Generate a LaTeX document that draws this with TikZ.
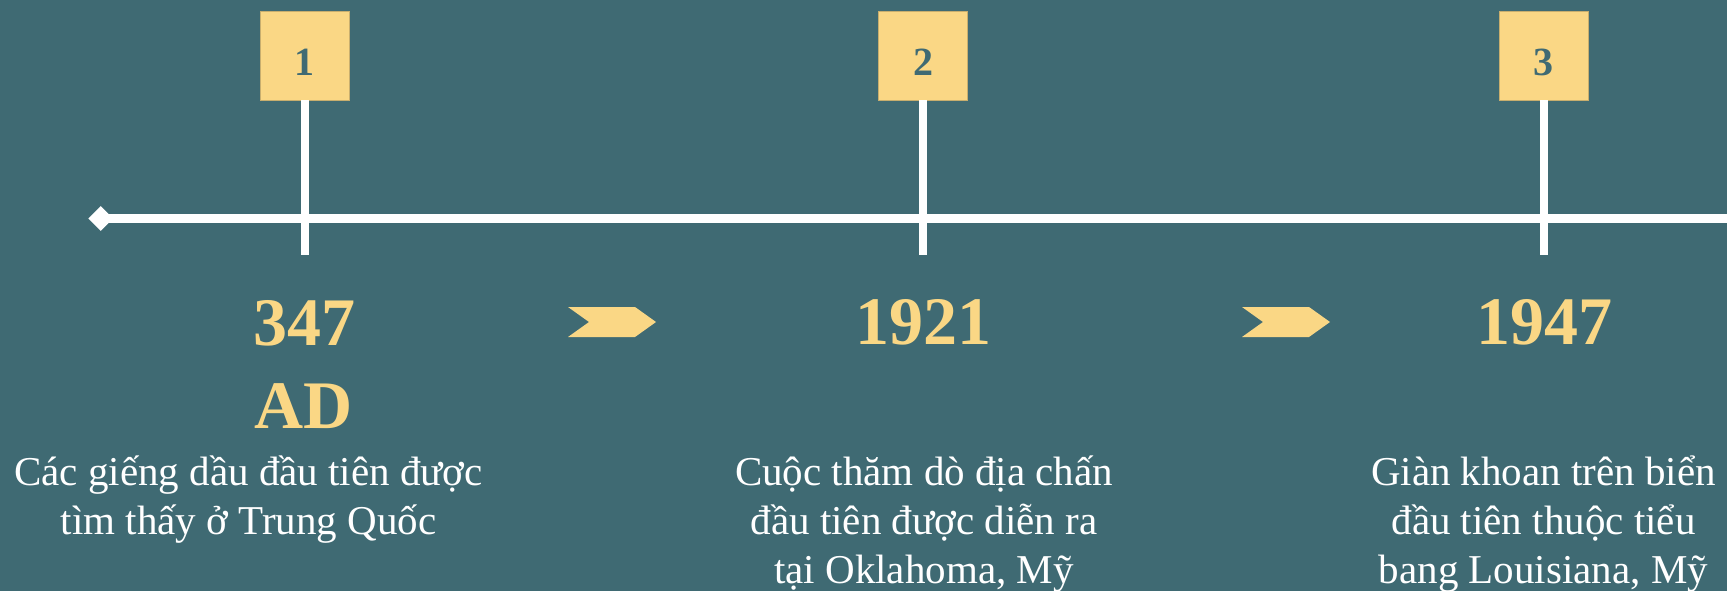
\documentclass[tikz,border=0pt]{standalone}
\usepackage{fontspec}
\usetikzlibrary{shapes.geometric}
\setmainfont{Liberation Serif}
\definecolor{bgteal}{HTML}{3F6A73}
\definecolor{gold}{HTML}{FAD785}
\definecolor{goldedge}{HTML}{C8AE6E}
\begin{document}
\begin{tikzpicture}[x=1pt,y=-1pt,
  numbox/.style={fill=gold,draw=goldedge,line width=0.6pt,minimum size=89pt,inner sep=0pt},
  numtext/.style={text=bgteal,font=\bfseries\fontsize{40}{40}\selectfont,anchor=base,inner sep=0pt},
  stem/.style={draw=white,line width=8pt},
  yeartext/.style={text=gold,font=\bfseries\fontsize{68}{83}\selectfont,align=center,anchor=base,inner sep=0pt},
  desctext/.style={text=white,font=\fontsize{41}{49}\selectfont,align=center,anchor=base,inner sep=0pt},
  chev/.style={fill=gold,draw=none}]
\fill[bgteal] (0,0) rectangle (1727,591);
\useasboundingbox (0,0) rectangle (1727,591);
% timeline
\node[diamond,fill=white,inner sep=0pt,minimum size=25pt] (dia) at (100.7,218.5) {};
\coordinate (tend) at (1727,218.5);
\draw[white,line width=9pt] (dia.center) -- (tend);
% boxes and stems
\foreach \i/\x in {1/304.5,2/923,3/1543.5}{
  \node[numbox] (b\i) at (\x,55.5) {};
  \coordinate (s\i) at (\x,255);
  \draw[stem] (b\i.south) -- (s\i);
  \node[numtext] (n\i) at (\x,76) {\i};
}
% chevrons
\foreach \i/\dx in {1/0,2/674}{
  \begin{scope}[xshift=\dx pt]
    \fill[gold] (568,307) -- (635,307) -- (656,322) -- (635,337) -- (568,337) -- (589,322) -- cycle;
  \end{scope}
}
% years (base anchor = baseline of last line)
\node[yeartext] (y1) at (304,428) {347\\AD};
\node[yeartext] (y2) at (923,344) {1921};
\node[yeartext] (y3) at (1544,344) {1947};
% descriptions
\node[desctext] (d1) at (248.5,534) {Các giếng dầu đầu tiên được\\tìm thấy ở Trung Quốc};
\node[desctext] (d2) at (924,583) {Cuộc thăm dò địa chấn\\đầu tiên được diễn ra\\tại Oklahoma, Mỹ};
\node[desctext] (d3) at (1543.5,583) {Giàn khoan trên biển\\đầu tiên thuộc tiểu\\bang Louisiana, Mỹ};
\end{tikzpicture}
\end{document}
